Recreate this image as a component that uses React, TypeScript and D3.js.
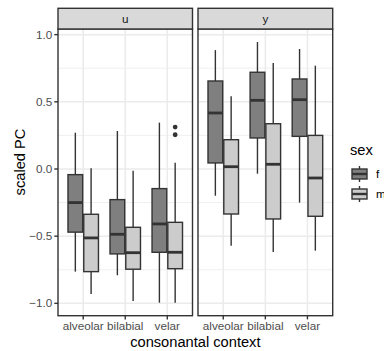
import React from "react";
import * as d3 from "d3";

// ---- data ----
const categories = ["alveolar", "bilabial", "velar"];
const facets = ["u", "y"];
const sexes = ["f", "m"];
// [lower whisker, q1, median, q3, upper whisker] per category
const u_f = [
  [-0.764, -0.47, -0.25, -0.042, 0.27],
  [-0.791, -0.632, -0.486, -0.228, 0.283],
  [-0.995, -0.62, -0.409, -0.146, 0.345],
];
const u_m = [
  [-0.93, -0.764, -0.513, -0.337, 0.005],
  [-0.982, -0.746, -0.623, -0.434, -0.013],
  [-0.995, -0.742, -0.62, -0.397, 0.047],
];
const y_f = [
  [-0.199, 0.045, 0.417, 0.655, 0.885],
  [-0.035, 0.231, 0.511, 0.72, 0.945],
  [-0.25, 0.243, 0.516, 0.67, 0.893],
];
const y_m = [
  [-0.571, -0.335, 0.017, 0.218, 0.541],
  [-0.618, -0.372, 0.035, 0.337, 0.789],
  [-0.608, -0.352, -0.067, 0.25, 0.769],
];
// outliers: [facet, sex, category, value]
const outliers: [string, string, string, number][] = [
  ["u", "m", "velar", 0.312],
  ["u", "m", "velar", 0.255],
];
const yTicks = [-1.0, -0.5, 0.0, 0.5, 1.0];
const yMinor = [-0.75, -0.25, 0.25, 0.75];

const seriesData: Record<string, Record<string, number[][]>> = {
  u: { f: u_f, m: u_m },
  y: { f: y_f, m: y_m },
};

// ---- layout ----
const W = 384;
const H = 351;
const FONT = "'Liberation Sans', Arial, Helvetica, sans-serif";
const panelTop = 29;
const panelBottom = 315.7;
const stripTop = 8.3;
const panels = [
  { x0: 58, x1: 192.5 },
  { x0: 198, x1: 332.7 },
];
const fillColor: Record<string, string> = { f: "#7f7f7f", m: "#cccccc" };
const lineColor = "#333333";

export default function App() {
  const allVals: number[] = [];
  facets.forEach((fc) =>
    sexes.forEach((s) => seriesData[fc][s].forEach((st) => allVals.push(...st)))
  );
  outliers.forEach((o) => allVals.push(o[3]));
  const [mn, mx] = d3.extent(allVals) as [number, number];
  const pad = (mx - mn) * 0.05;
  const y = d3.scaleLinear().domain([mn - pad, mx + pad]).range([panelBottom, panelTop]);

  const sexOffset = d3.scalePoint<string>().domain(sexes).range([-0.1875, 0.1875]);
  const boxW = 0.35;

  return (
    <svg
      width={W}
      height={H}
      style={{ position: "absolute", left: 0, top: 0, background: "#fff" }}
      fontFamily={FONT}
    >
      <rect x={0} y={0} width={W} height={H} fill="#fff" />
      {facets.map((fc, pi) => {
        const p = panels[pi];
        const x = d3.scalePoint<string>().domain(categories).range([p.x0, p.x1]).padding(0.6);
        const step = x.step();
        return (
          <g key={fc}>
            {/* grid */}
            {yMinor.map((t) => (
              <line key={"mi" + t} x1={p.x0} x2={p.x1} y1={y(t)} y2={y(t)} stroke="#ebebeb" strokeWidth={0.8} />
            ))}
            {yTicks.map((t) => (
              <line key={"ma" + t} x1={p.x0} x2={p.x1} y1={y(t)} y2={y(t)} stroke="#ebebeb" strokeWidth={1.5} />
            ))}
            {categories.map((c) => (
              <line key={"gx" + c} x1={x(c)} x2={x(c)} y1={panelTop} y2={panelBottom} stroke="#ebebeb" strokeWidth={1.5} />
            ))}
            {/* boxes */}
            {sexes.map((s) =>
              seriesData[fc][s].map((st, ci) => {
                const cx = (x(categories[ci]) as number) + (sexOffset(s) as number) * step;
                const hw = (boxW * step) / 2;
                const [lo, q1, md, q3, hi] = st;
                return (
                  <g key={s + ci}>
                    <line x1={cx} x2={cx} y1={y(hi)} y2={y(q3)} stroke={lineColor} strokeWidth={1.4} />
                    <line x1={cx} x2={cx} y1={y(q1)} y2={y(lo)} stroke={lineColor} strokeWidth={1.4} />
                    <rect x={cx - hw} y={y(q3)} width={hw * 2} height={y(q1) - y(q3)} fill={fillColor[s]} stroke={lineColor} strokeWidth={1.4} />
                    <line x1={cx - hw} x2={cx + hw} y1={y(md)} y2={y(md)} stroke={lineColor} strokeWidth={2.8} />
                  </g>
                );
              })
            )}
            {outliers
              .filter((o) => o[0] === fc)
              .map((o, i) => (
                <circle
                  key={"o" + i}
                  cx={(x(o[2]) as number) + (sexOffset(o[1]) as number) * step}
                  cy={y(o[3])}
                  r={2.4}
                  fill={lineColor}
                />
              ))}
            {/* panel border */}
            <rect x={p.x0} y={panelTop} width={p.x1 - p.x0} height={panelBottom - panelTop} fill="none" stroke={lineColor} strokeWidth={1.4} />
            {/* strip */}
            <rect x={p.x0} y={stripTop} width={p.x1 - p.x0} height={panelTop - stripTop} fill="#d9d9d9" stroke={lineColor} strokeWidth={1.4} />
            <text x={(p.x0 + p.x1) / 2} y={(stripTop + panelTop) / 2} dy="0.35em" textAnchor="middle" fontSize={11.7} fill="#1a1a1a">
              {fc}
            </text>
            {/* x axis */}
            {categories.map((c) => (
              <g key={"xt" + c}>
                <line x1={x(c)} x2={x(c)} y1={panelBottom} y2={panelBottom + 3.7} stroke={lineColor} strokeWidth={1.4} />
                <text x={x(c)} y={330} textAnchor="middle" fontSize={11.7} fill="#4d4d4d">
                  {c}
                </text>
              </g>
            ))}
            {/* y axis only on first panel */}
            {pi === 0 &&
              yTicks.map((t) => (
                <g key={"yt" + t}>
                  <line x1={p.x0 - 3.7} x2={p.x0} y1={y(t)} y2={y(t)} stroke={lineColor} strokeWidth={1.4} />
                  <text x={52.3} y={y(t)} dy="0.35em" textAnchor="end" fontSize={11.7} fill="#4d4d4d">
                    {d3.format(".1f")(t).replace("-", "\u2212")}
                  </text>
                </g>
              ))}
          </g>
        );
      })}
      {/* axis titles */}
      <text x={(panels[0].x0 + panels[1].x1) / 2} y={346.5} textAnchor="middle" fontSize={14.67} fill="#000">
        consonantal context
      </text>
      <text transform={`translate(24.5,${(stripTop + panelBottom) / 2}) rotate(-90)`} textAnchor="middle" fontSize={14.67} fill="#000">
        scaled PC
      </text>
      {/* legend */}
      <text x={350} y={155} fontSize={14.67} fill="#000">
        sex
      </text>
      {sexes.map((s, i) => {
        const cy = 174 + i * 20;
        const kx = 359.5;
        return (
          <g key={"lg" + s}>
            <line x1={kx} x2={kx} y1={cy - 8} y2={cy + 8} stroke={lineColor} strokeWidth={1.4} />
            <rect x={kx - 7.5} y={cy - 5} width={15} height={10} fill={fillColor[s]} stroke={lineColor} strokeWidth={1.4} />
            <line x1={kx - 7.5} x2={kx + 7.5} y1={cy} y2={cy} stroke={lineColor} strokeWidth={2.4} />
            <text x={376} y={cy} dy="0.35em" fontSize={11.7} fill="#000">
              {s}
            </text>
          </g>
        );
      })}
    </svg>
  );
}
